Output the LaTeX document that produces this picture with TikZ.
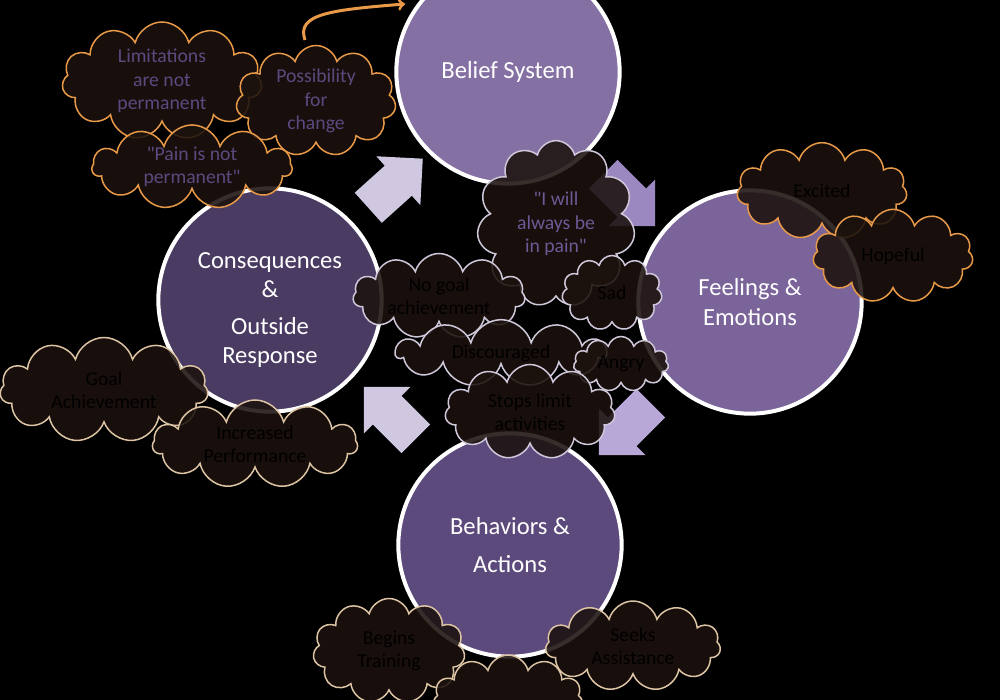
\documentclass[tikz,border=0pt]{standalone}
\usepackage{fontspec}
\setmainfont{Carlito}
\usetikzlibrary{shapes.symbols,shapes.arrows}
\definecolor{beliefc}{HTML}{8470A2}
\definecolor{feelc}{HTML}{7A6499}
\definecolor{conseqc}{HTML}{4A3B62}
\definecolor{behavc}{HTML}{5C4A7C}
\definecolor{cloudfill}{HTML}{1C120E}
\definecolor{hopetext}{HTML}{5A4A80}
\definecolor{paintext}{HTML}{6B5A95}
\definecolor{orangeline}{HTML}{E89A48}
\definecolor{greyline}{HTML}{CFC8DA}
\definecolor{tanline}{HTML}{DCC4A4}
\definecolor{lavender}{HTML}{CFC8E0}
\definecolor{midlilac}{HTML}{9C88C0}
\definecolor{softlilac}{HTML}{B8A8D8}
\begin{document}
\begin{tikzpicture}[x=0.3mm,y=-0.3mm,
  stage/.style={circle, draw=white, line width=1.2mm, text=white, align=center,
    minimum size=67mm, inner sep=0pt, font=\fontsize{21}{25}\selectfont},
  puff/.style={cloud, cloud puffs=11, cloud ignores aspect, fill=cloudfill,
    fill opacity=0.88, text opacity=1, line width=0.45mm, align=center,
    inner sep=0pt, font=\fontsize{16.8}{20}\selectfont, text=black},
  hope/.style={puff, draw=orangeline, text=hopetext},
  hurt/.style={puff, draw=greyline},
  gain/.style={puff, draw=tanline},
  flow/.style={single arrow, minimum height=22mm, minimum width=19.5mm,
    inner xsep=0pt, inner ysep=6mm, single arrow head extend=3.8mm}
]
\fill[black] (0,0) rectangle (1000,700);
\useasboundingbox (0,0) rectangle (1000,700);

% the four stages
\node[stage, fill=beliefc] (belief) at (508,72) {Belief System};
\node[stage, fill=feelc] (feel) at (750,302) {Feelings \&\\Emotions};
\node[stage, fill=conseqc, label={[text=white, align=center, font=\fontsize{21}{25}\selectfont, yshift=-3mm]center:Consequences\\\&\\[6pt]Outside\\Response}] (conseq) at (270,300) {};
\node[stage, fill=behavc] (behav) at (510,545) {Behaviors \&\\[8pt]Actions};

% block arrows of the cycle
\node[flow, fill=lavender, rotate=42] (upright) at (388,190) {};
\node[flow, fill=midlilac, rotate=-45] (downright) at (622,193) {};
\node[flow, fill=softlilac, rotate=-135] (downleft) at (632,422) {};
\node[flow, fill=lavender, rotate=135] (upleft) at (397,420) {};

% hopeful thoughts
\node[hope, minimum width=60mm, minimum height=35.4mm] (limits) at (162,81) {Limitations\\are not\\permanent};
\node[hope, minimum width=48mm, minimum height=33mm] (change) at (316,101) {Possibility\\for\\change};
\node[hope, minimum width=60mm, minimum height=24.6mm] (nopain) at (192,167) {\textquotedbl Pain is not\\permanent\textquotedbl};
\coordinate (curlA) at (305,40);
\coordinate (curlB) at (405,4);
\draw[orangeline, line width=0.9mm, ->] (curlA) .. controls (296,14) and (330,10) .. (curlB);

% feelings
\node[hope, text=black, minimum width=51mm, minimum height=29mm] (excited) at (822,191) {Excited};
\node[hope, text=black, minimum width=48mm, minimum height=28mm] (hopeful) at (893,256) {Hopeful};

% painful thoughts
\node[hurt, text=paintext, minimum width=47.4mm, minimum height=50mm] (always) at (556,224) {\textquotedbl I will\\always be\\in pain\textquotedbl};
\node[hurt, minimum width=51.6mm, minimum height=25.5mm] (nogoal) at (439,296) {No goal\\achievement};
\node[hurt, minimum width=30mm, minimum height=22.5mm] (sad) at (612,293) {Sad};
\node[hurt, minimum width=63mm, minimum height=20mm] (discour) at (501,353) {Discouraged};
\node[hurt, minimum width=28.5mm, minimum height=16.5mm] (angry) at (621,364) {Angry};
\node[hurt, minimum width=51mm, minimum height=28.5mm] (stops) at (530,412) {Stops limit\\activities};

% outcomes and actions
\node[gain, minimum width=62.4mm, minimum height=31.5mm] (goal) at (104,390) {Goal\\Achievement};
\node[gain, minimum width=61.5mm, minimum height=26.4mm] (perform) at (255,444) {Increased\\Performance};
\node[gain, minimum width=45.6mm, minimum height=31.5mm] (training) at (389,651) {Begins\\Training};
\node[gain, minimum width=52.5mm, minimum height=27mm] (assist) at (633,646) {Seeks\\Assistance};
\node[gain, minimum width=45mm, minimum height=27mm] (lower) at (508,700) {};
\end{tikzpicture}
\end{document}
